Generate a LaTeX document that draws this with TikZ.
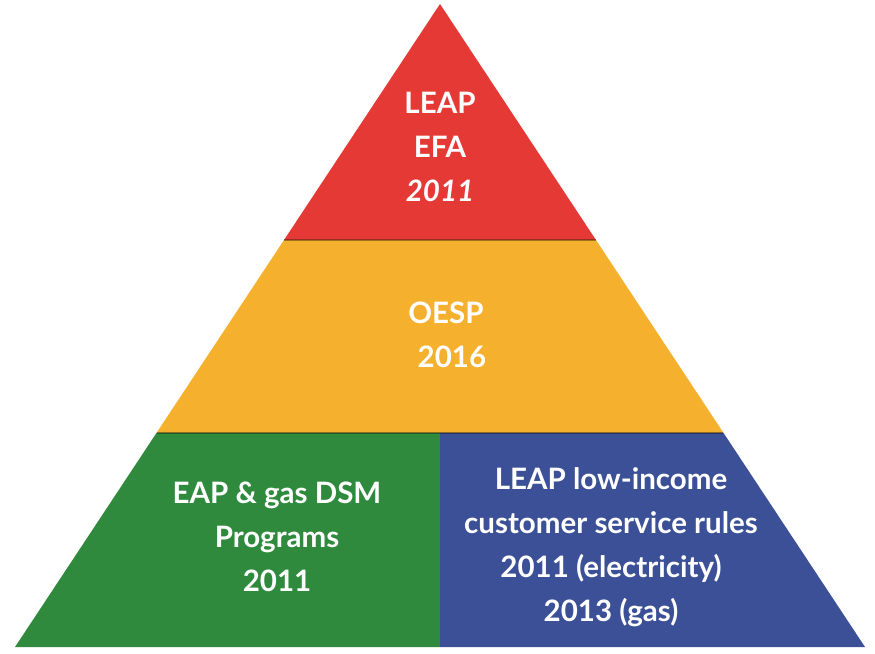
\documentclass[tikz,border=0pt]{standalone}
\usepackage{fontspec}
\setmainfont{Lato}
\usetikzlibrary{calc}
\definecolor{cred}{RGB}{229,57,53}
\definecolor{cyel}{RGB}{245,176,46}
\definecolor{cgrn}{RGB}{47,138,62}
\definecolor{cblu}{RGB}{59,80,150}
\tikzset{
  band/.style={draw=none},
  sep/.style={draw=black, opacity=0.35, line width=2pt},
  lbl/.style={text=white, font=\bfseries\fontsize{29.5}{44}\selectfont, align=center, inner sep=0pt}
}
\begin{document}
\begin{tikzpicture}[x=1pt,y=-1pt]
\useasboundingbox (0,0) rectangle (875,653);
\coordinate (A) at (440,4);
\coordinate (L) at (15,647);
\coordinate (R) at (865,647);
\coordinate (M) at (440,647);
\coordinate (L1) at ($(A)!0.367!(L)$);
\coordinate (R1) at ($(A)!0.367!(R)$);
\coordinate (L2) at ($(A)!0.667!(L)$);
\coordinate (R2) at ($(A)!0.667!(R)$);
\coordinate (M2) at (440,{4+0.667*643});
\fill[band, cred] (A) -- (R1) -- (L1) -- cycle;
\fill[band, cyel] (L1) -- (R1) -- (R2) -- (L2) -- cycle;
\fill[band, cgrn] (L2) -- (M2) -- (M) -- (L) -- cycle;
\fill[band, cblu] (M2) -- (R2) -- (R) -- (M) -- cycle;
\draw[sep] (L1) -- (R1);
\draw[sep] (L2) -- (R2);
\node[lbl] (top) at (440,147) {LEAP\\EFA\\\itshape 2011};
\node[lbl] (mid) at (446,335) {OESP\\\hspace*{0.4em}2016};
\node[lbl] (left) at (277,537) {EAP \& gas DSM\\Programs\\2011};
\node[lbl] (right) at (611,547) {LEAP low-income\\customer service rules\\2011 (electricity)\\2013 (gas)};
\end{tikzpicture}
\end{document}
